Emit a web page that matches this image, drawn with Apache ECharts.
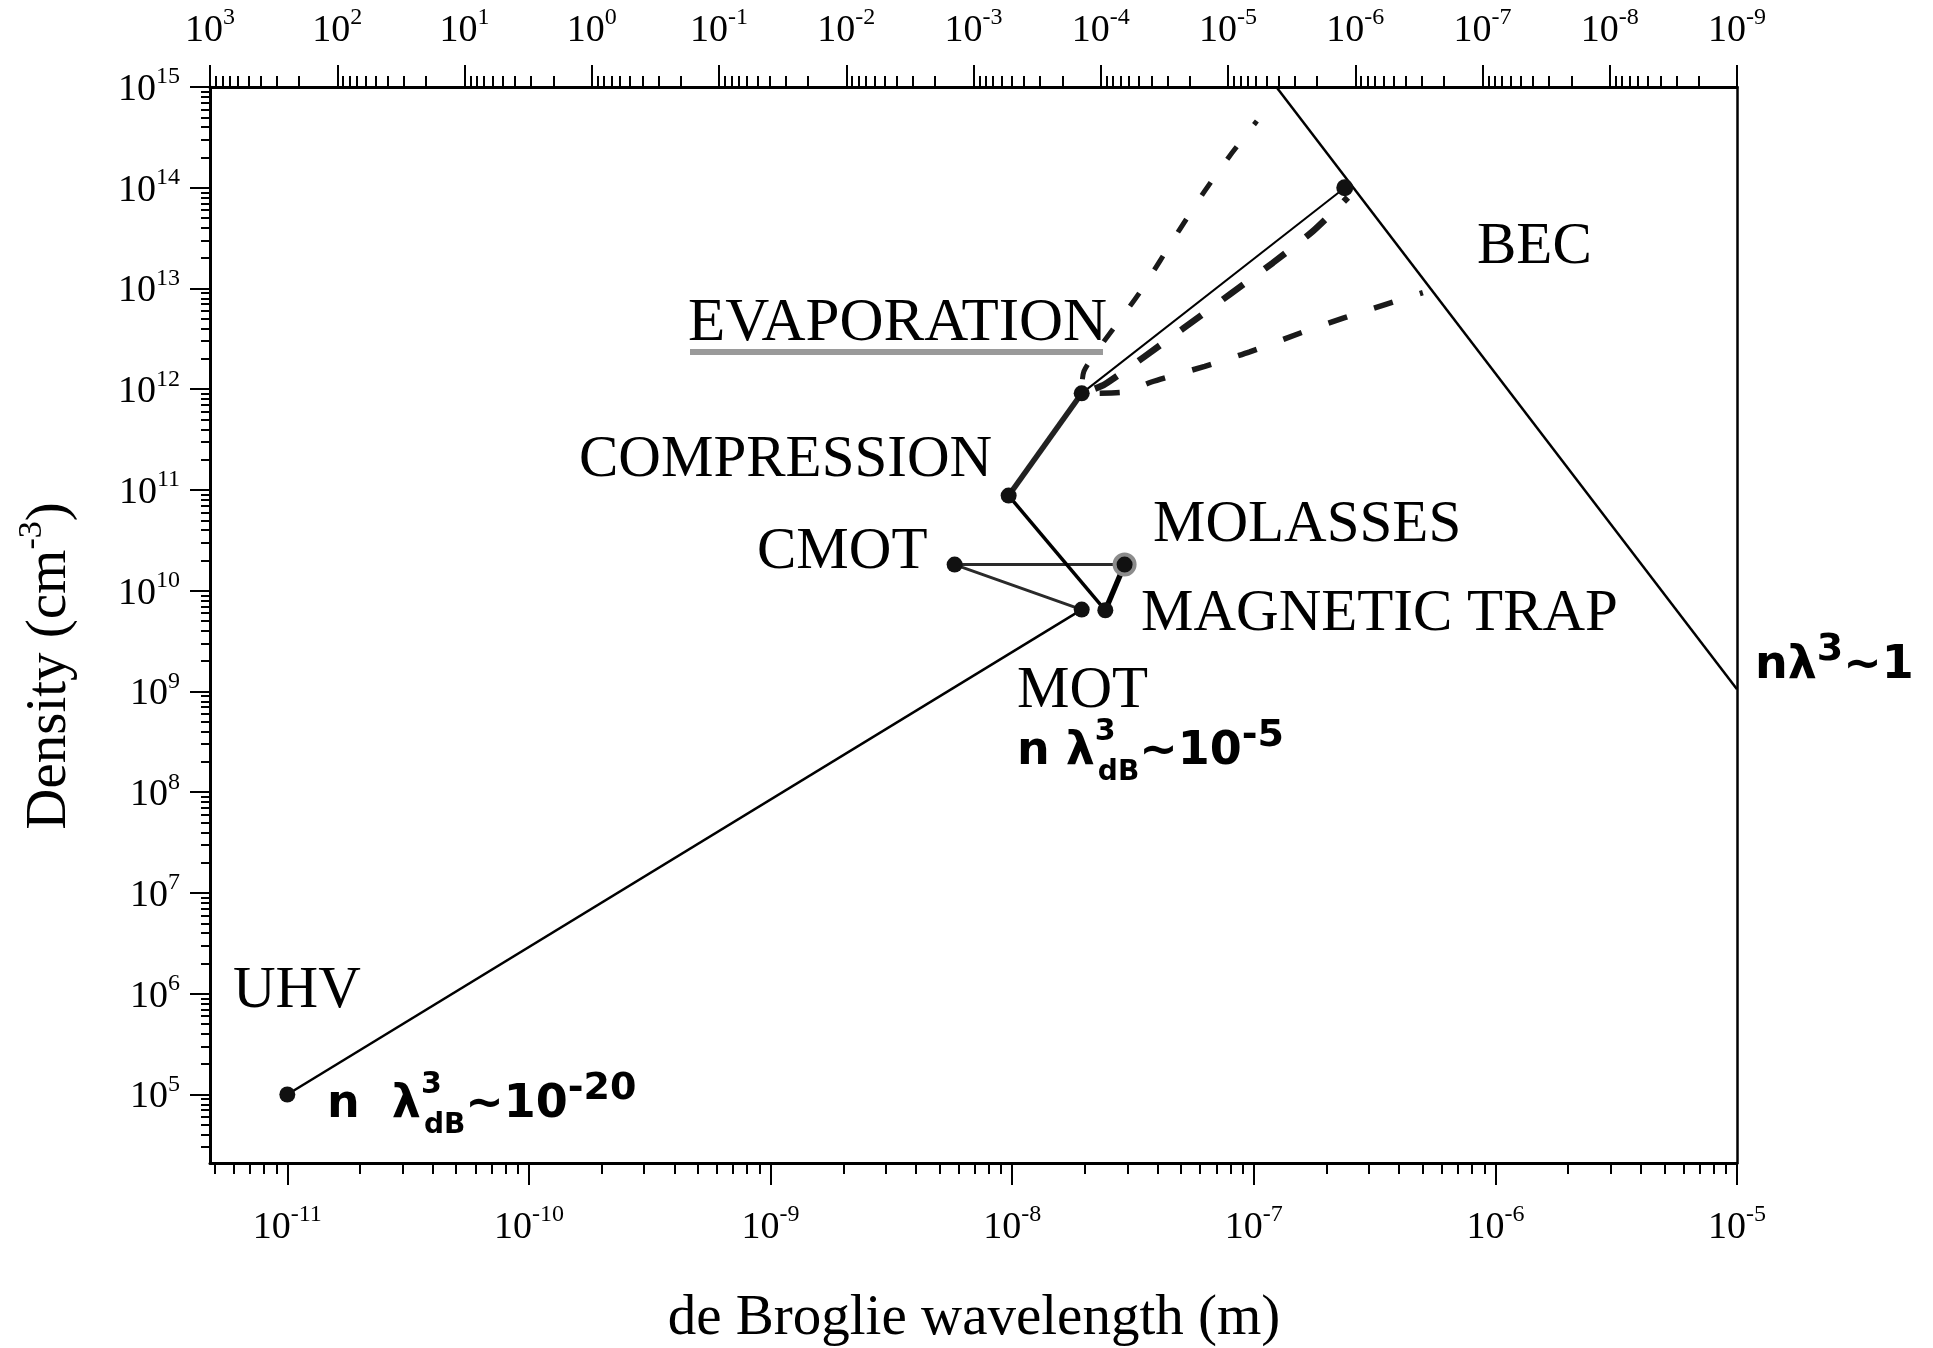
<!DOCTYPE html>
<html><head><meta charset="utf-8">
<script src="https://cdn.jsdelivr.net/npm/echarts@6/dist/echarts.min.js"></script>
<style>html,body{margin:0;padding:0;background:#fff}#c{width:1933px;height:1348px}</style>
</head><body><div id="c"></div>
<script>
// ---------- data ----------
const stageNames   = ['UHV', 'MOT', 'CMOT', 'MOLASSES', 'MAGNETIC TRAP', 'COMPRESSION', 'EVAPORATION'];
const stageLambda  = [1e-11, 1.94e-8, 5.78e-9, 2.92e-8, 2.43e-8, 9.67e-9, 1.94e-8];   // m
const stageDensity = [1e5,   6.5e9,   1.82e10, 1.82e10, 6.4e9,   8.8e10,  9.1e11];    // cm^-3
const becLambda  = [2.38e-7];
const becDensity = [1.0e14];
const critLambda  = [1.24e-7, 1e-5];
const critDensity = [1e15, 1.05e9];
const evapUpLambda   = [1.94e-8, 1.98e-8, 2.3e-8, 3.40e-8, 4.94e-8, 6.27e-8, 7.95e-8, 1.03e-7];
const evapUpDensity  = [9.1e11, 1.5e12, 2.6e12, 9.4e12, 3.87e13, 9.3e13, 2.07e14, 4.6e14];
const evapMidLambda  = [1.94e-8, 2.42e-8, 5.09e-8, 7.96e-8, 1.20e-7, 1.76e-7, 2.45e-7];
const evapMidDensity = [9.1e11, 1.12e12, 3.99e12, 8.75e12, 1.80e13, 3.72e13, 8.0e13];
const evapLowLambda  = [1.94e-8, 2.92e-8, 3.77e-8, 6.27e-8, 9.62e-8, 1.57e-7, 2.36e-7, 3.52e-7, 5.01e-7];
const evapLowDensity = [9.1e11, 9.4e11, 1.18e12, 1.69e12, 2.35e12, 3.64e12, 5.1e12, 6.95e12, 9.1e12];

// tick labels (exponents of 10)
const xTickExp = [-11, -10, -9, -8, -7, -6, -5];
const yTickExp = [5, 6, 7, 8, 9, 10, 11, 12, 13, 14, 15];
const tTickExp = [3, 2, 1, 0, -1, -2, -3, -4, -5, -6, -7, -8, -9];
const xRangeExp = [-11.32, -5];
const yRangeExp = [4.32, 15];
const tRangeExp = [-9, 3];

// ---------- helpers ----------
const FONT = '"Liberation Serif", "Times New Roman", serif';
const HAND = '"DejaVu Sans", sans-serif';
const zip = (a, b) => a.map((v, i) => [v, b[i]]);
function minors(lo, hi) {
  const out = [];
  for (let d = Math.floor(lo); d < Math.ceil(hi); d++) {
    for (let k = 2; k <= 9; k++) {
      const v = d + Math.log10(k);
      if (v > lo && v < hi) out.push(v);
    }
  }
  return out;
}
const expLabel = v => '{b|10}{s|' + Math.round(v) + '}';
const labelRich = {
  b: {fontFamily: FONT, fontSize: 38, lineHeight: 44, color: '#000', verticalAlign: 'bottom'},
  s: {fontFamily: FONT, fontSize: 24, lineHeight: 28, color: '#000', verticalAlign: 'top'}
};
const black = {color: '#000', width: 3};

function majorAxis(pos, range, ticks, tickLen, margin, extra) {
  return Object.assign({
    type: 'value', position: pos, min: range[0], max: range[1],
    axisLine: {show: true, onZero: false, lineStyle: black},
    axisTick: {show: true, customValues: ticks, length: tickLen, lineStyle: {color: '#000', width: 2}},
    axisLabel: {show: true, customValues: ticks, formatter: expLabel, rich: labelRich, margin: margin},
    splitLine: {show: false}
  }, extra || {});
}
function minorAxis(pos, range, tickLen, extra) {
  return Object.assign({
    type: 'value', position: pos, min: range[0], max: range[1],
    axisLine: {show: false, onZero: false},
    axisTick: {show: true, customValues: minors(range[0], range[1]), length: tickLen, lineStyle: {color: '#000', width: 2}},
    axisLabel: {show: false},
    splitLine: {show: false}
  }, extra || {});
}

const stagePts = zip(stageLambda, stageDensity);
function seg(i0, i1, width, color) {
  return {
    type: 'line', xAxisIndex: 0, yAxisIndex: 0, data: stagePts.slice(i0, i1 + 1),
    symbol: 'none', lineStyle: {color: color || '#000', width: width}, z: 3, silent: true
  };
}
function dashed(lam, den, dash, offset, width, smooth) {
  return {
    type: 'line', xAxisIndex: 0, yAxisIndex: 0, data: zip(lam, den), symbol: 'none',
    smooth: smooth, lineStyle: {color: '#1a1a1a', width: width, type: dash, dashOffset: offset, cap: 'butt'}, z: 2, silent: true
  };
}

const scatterData = stagePts.map((p, i) => {
  const item = {name: stageNames[i], value: p};
  if (stageNames[i] === 'MOLASSES') {
    item.symbolSize = 20;
    item.itemStyle = {color: '#111', borderColor: '#8c8c8c', borderWidth: 4, opacity: 1};
  }
  return item;
}).concat(zip(becLambda, becDensity).map(p => ({name: 'BEC', value: p, symbolSize: 17})));

const annText = (txt, x, y, size) => ({
  type: 'text', x: x, y: y, z: 10,
  style: {text: txt, fontFamily: FONT, fontSize: size || 59, fill: '#000', align: 'left', verticalAlign: 'middle'}
});
const handRich = {
  h:  {fontFamily: HAND, fontSize: 46, fontWeight: 'bold', fill: '#000', lineHeight: 70, verticalAlign: 'middle'},
  t:  {fontFamily: HAND, fontSize: 30, fontWeight: 'bold', fill: '#000', lineHeight: 30, verticalAlign: 'top', width: 3},
  d:  {fontFamily: HAND, fontSize: 28, fontWeight: 'bold', fill: '#000', lineHeight: 42, verticalAlign: 'bottom'},
  e:  {fontFamily: HAND, fontSize: 38, fontWeight: 'bold', fill: '#000', lineHeight: 38, verticalAlign: 'top'}
};
const handText = (txt, x, y) => ({
  type: 'text', x: x, y: y, z: 10,
  style: {text: txt, rich: handRich, align: 'left', verticalAlign: 'middle'}
});

const option = {
  backgroundColor: '#fff',
  animation: false,
  grid: {left: 210, right: 196, top: 87, bottom: 185, containLabel: false},
  xAxis: [
    {type: 'log', logBase: 10, show: false, min: Math.pow(10, xRangeExp[0]), max: Math.pow(10, xRangeExp[1])},
    majorAxis('bottom', xRangeExp, xTickExp, 22, 40),
    minorAxis('bottom', xRangeExp, 11),
    majorAxis('top', tRangeExp, tTickExp, 22, 37, {inverse: true}),
    minorAxis('top', tRangeExp, 11, {inverse: true})
  ],
  yAxis: [
    {type: 'log', logBase: 10, show: false, min: Math.pow(10, yRangeExp[0]), max: Math.pow(10, yRangeExp[1])},
    majorAxis('left', yRangeExp, yTickExp, 20, 30),
    minorAxis('left', yRangeExp, 9),
    {type: 'value', position: 'right', min: yRangeExp[0], max: yRangeExp[1],
     axisLine: {show: true, onZero: false, lineStyle: {color: '#000', width: 2.5}},
     axisTick: {show: false}, axisLabel: {show: false}, splitLine: {show: false}}
  ],
  series: [
    seg(0, 1, 2.5),
    seg(1, 3, 3, '#2a2a2a'),
    seg(3, 4, 5.5),
    seg(4, 5, 3.5),
    seg(5, 6, 5.5, '#222'),
    {type: 'line', xAxisIndex: 0, yAxisIndex: 0, symbol: 'none', silent: true, z: 3,
     data: [stagePts[6]].concat(zip(becLambda, becDensity)), lineStyle: {color: '#000', width: 2}},
    {type: 'line', xAxisIndex: 0, yAxisIndex: 0, symbol: 'none', silent: true, z: 3,
     data: zip(critLambda, critDensity), lineStyle: {color: '#000', width: 2.5}},
    dashed(evapUpLambda, evapUpDensity, [16, 28], -14, 5, 0.25),
    dashed(evapMidLambda, evapMidDensity, [26, 26], -14, 6.5, 0.2),
    dashed(evapLowLambda, evapLowDensity, [20, 28], -18, 5.5, 0.2),
    {type: 'scatter', xAxisIndex: 0, yAxisIndex: 0, data: scatterData, symbol: 'circle',
     symbolSize: 16, itemStyle: {color: '#111', opacity: 1}, z: 5, silent: true}
  ],
  graphic: [
    annText('EVAPORATION', 688, 324, 61),
    {type: 'rect', z: 9, shape: {x: 690, y: 349, width: 413, height: 6}, style: {fill: '#9a9a9a'}},
    annText('COMPRESSION', 579, 460),
    annText('CMOT', 757, 552),
    annText('MOLASSES', 1153, 525),
    annText('MAGNETIC TRAP', 1141, 614),
    annText('MOT', 1017, 691),
    annText('UHV', 233, 991),
    annText('BEC', 1477, 247),
    handText('{h|nλ}{e|3}{h|~1}', 1755, 666),
    handText('{h|n λ}{t|3}{d|dB}{h|~10}{e|-5}', 1017, 752),
    handText('{h|n  λ}{t|3}{d|dB}{h|~10}{e|-20}', 327, 1105),
    {type: 'text', x: 974, y: 1319, z: 10,
     style: {text: 'de Broglie wavelength (m)', fontFamily: FONT, fontSize: 57, fill: '#000', align: 'center', verticalAlign: 'middle'}},
    {type: 'text', x: 47, y: 666, rotation: Math.PI / 2, z: 10,
     style: {text: '{a|Density (cm}{s|-3}{a|)}', align: 'center', verticalAlign: 'middle',
       rich: {a: {fontFamily: FONT, fontSize: 57, fill: '#000', lineHeight: 64, verticalAlign: 'bottom'},
              s: {fontFamily: FONT, fontSize: 34, fill: '#000', lineHeight: 40, verticalAlign: 'top'}}}}
  ]
};
const chart = echarts.init(document.getElementById('c'), null, {renderer: 'canvas'});
chart.setOption(option);
</script>
</body></html>
